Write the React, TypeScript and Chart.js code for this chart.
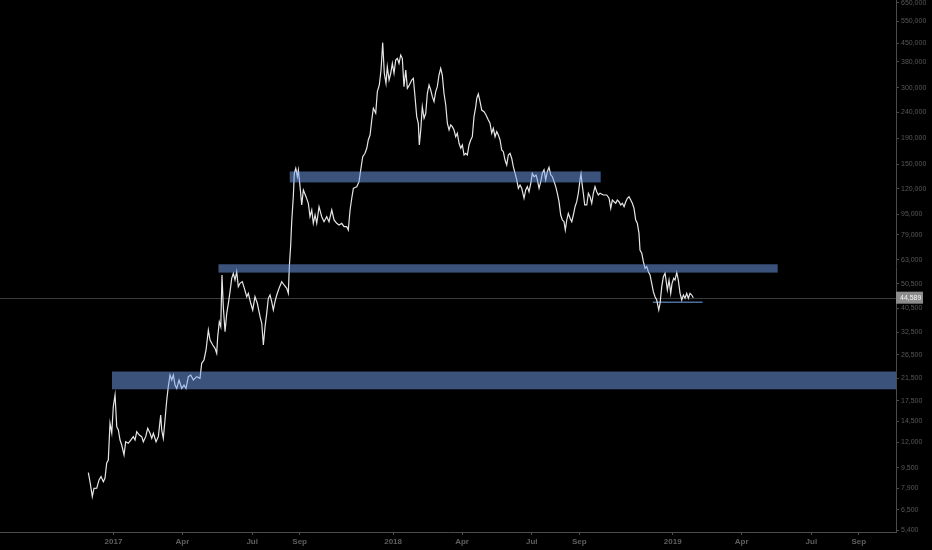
import React, { useEffect, useRef } from "react";
import { Chart, registerables } from "chart.js";

Chart.register(...registerables);

// days since 2017-01-01
const DAYS: number[] = [
  -32.9,-30.7,-27.7,-25.5,-21.9,-18.9,-16.3,-13.3,-11.1,-8.9,-6.8,-4.6,-2.3,-0.3,2.0,4.2,6.3,8.5,10.7,13.7,15.9,19.3,22.5,25.8,28.1,30.3,33.7,36.8,38.9,42.0,44.6,47.7,49.9,52.0,55.5,58.5,61.6,62.9,65.0,67.2,69.5,71.5,73.8,76.0,78.1,80.3,82.5,85.5,89.0,92.0,94.6,97.7,100.8,104.2,108.6,112.9,115.1,118.1,120.8,123.8,126.0,129.5,132.5,134.7,136.0,138.1,140.0,141.6,143.3,145.6,147.8,149.9,152.1,154.3,156.4,158.6,160.8,162.9,165.1,168.1,170.8,173.9,176.0,179.1,181.7,184.7,187.7,191.3,193.5,195.6,197.8,200.0,202.1,204.3,206.5,208.6,210.8,213.1,216.1,219.6,222.6,226.1,228.2,229.5,231.3,232.6,234.7,236.0,237.9,240.0,241.3,243.5,245.7,247.8,251.3,254.3,256.5,258.8,260.8,263.1,265.3,268.3,271.8,274.8,278.3,281.3,284.9,287.9,291.4,294.4,297.9,300.9,304.4,306.5,308.8,311.0,313.1,317.5,320.5,322.7,325.3,328.3,330.6,332.6,334.9,337.1,339.2,342.3,344.4,347.0,349.2,351.4,353.5,355.7,357.4,359.7,361.9,364.0,366.2,368.4,370.5,372.7,374.9,377.0,379.2,381.5,383.6,386.2,389.3,391.4,393.6,395.8,397.9,399.2,401.1,403.1,405.4,407.6,409.7,411.9,414.1,416.2,418.4,420.6,422.7,424.9,427.1,429.2,431.4,433.7,435.8,438.0,440.2,442.3,444.5,446.7,448.8,451.1,453.3,455.4,457.6,459.8,461.9,464.1,466.3,468.4,470.6,472.9,474.2,476.2,478.5,480.7,483.7,486.3,489.3,491.5,493.7,495.8,498.1,500.3,502.4,504.6,506.8,508.9,511.1,513.3,515.4,517.6,519.8,521.9,524.2,526.4,528.5,530.7,532.9,535.9,538.1,540.2,542.4,544.7,546.7,549.0,551.6,553.3,555.5,557.7,559.8,562.0,564.2,566.3,568.5,570.8,572.9,575.1,577.3,579.4,581.6,583.8,585.9,588.1,589.8,591.7,593.7,596.0,598.2,600.3,602.5,604.7,606.8,609.0,610.3,611.6,613.3,615.1,617.8,619.9,622.1,624.3,626.4,628.6,630.8,632.9,635.1,639.4,643.9,646.9,649.1,651.2,653.4,655.6,657.7,659.9,662.1,664.3,666.5,668.7,670.8,673.0,675.2,677.3,679.5,681.7,683.8,686.0,687.3,689.6,691.7,693.9,696.1,698.2,700.4,702.6,704.7,706.9,709.1,711.8,713.5,715.7,717.8,720.0,721.3,723.0,725.2,727.4,729.1,731.3,733.0,735.3,737.3,739.6,741.8,743.9,746.1,748.3,750.4,752.6,754.8,756.9
];

const PRICES: number[] = [
  9100,8380,7320,7890,7910,8520,8780,8380,8670,9930,10200,14250,13050,16560,18420,
  13820,13410,12240,11700,10690,12050,11880,12240,12620,12240,13200,12810,12620,12050,12620,
  13610,13010,12430,13010,12050,12620,15360,13410,12430,14680,17610,19870,22090,21110,22090,
  20170,19580,21110,19580,20170,19580,21760,22090,21110,21760,21440,
  24570,25320,27730,33250,30360,29010,28160,26910,31290,35840,34260,
  54790,41090,32740,38690,42380,47080,53170,55640,52360,56460,49260,50810,51560,
  48550,44990,46390,42380,39870,44990,42380,37520,35340,29010,34260,38690,
  44340,45690,43000,39870,43000,45690,48550,51560,50040,48550,46390,59090,71960,
  88920,111600,138000,144400,133800,142200,122200,103500,118600,111600,105100,93050,98880,87630,94490,
  87630,101900,93050,88920,93050,88920,98880,90300,87630,86290,87630,84960,84960,82460,98880,
  110000,120400,122200,127900,142200,160500,165500,173200,186700,195400,223900,249100,238000,289600,307700,
  352700,452000,342300,312600,363400,322000,342300,374700,342300,386100,392200,374700,404100,392200,
  303100,352700,298700,307700,322000,327100,276700,230800,217400,178500,204500,252700,227400,238000,
  285400,307700,294100,276700,264500,289600,303100,336900,358200,336900,285400,256700,217400,204500,
  214000,210700,204500,192400,198500,181300,173200,178500,162900,165500,162900,
  178500,186700,192400,230800,252700,272700,283600,
  264500,245100,241500,234400,223900,217400,198500,207700,192400,201400,195400,186700,
  170500,167900,155700,148800,162900,165500,158200,146500,138000,129900,120400,124100,120400,
  110000,118600,122200,116800,126000,138000,133800,135900,129900,120400,127900,138000,142200,
  129900,140000,145700,135900,133800,127900,122200,115100,106600,94490,90300,88920,
  82460,90300,95960,91700,88920,94490,101900,106600,115100,129900,
  137100,126000,115100,103500,103500,115100,111600,105100,115100,122200,116800,113300,115100,
  113300,113300,110000,100400,108300,106600,105100,108300,106600,103500,105100,101900,106600,110000,111600,108300,105100,100400,
  90300,87630,80030,68760,66730,61830,58230,59090,56460,54790,50810,47080,44990,43670,39870,42380,
  49270,53950,55640,52360,47820,52360,46400,50810,53170,52360,55950,52360,46400,43670,45690,44340,46400,44340,46400,45690,44589
];

const X_TICK_DAYS = [0, 90, 181, 243, 365, 455, 546, 608, 730, 820, 911, 973];
const X_TICK_LABELS = ["2017", "Apr", "Jul", "Sep", "2018", "Apr", "Jul", "Sep", "2019", "Apr", "Jul", "Sep"];

const Y_TICKS = [5400, 6500, 7900, 9500, 12000, 14500, 17500, 21500, 26500, 32500, 40500, 50500, 63000, 79000, 95000, 120000, 150000, 190000, 240000, 300000, 380000, 450000, 550000, 650000];

// horizontal zones
const ZONE_START = [230, -2, 137];
const ZONE_END = [636, 1021.5, 867];
const ZONE_LOW = [127000, 19400, 56000];
const ZONE_HIGH = [140300, 22800, 60400];

const SUPPORT_DAYS = [704, 769];
const SUPPORT_PRICE = 42760;

const LAST_PRICE = 44589;

const X_MIN = -148.2;
const X_MAX = 1021.5;
const Y_MIN = 5309;
const Y_MAX = 665900;

const fmt = (v: number) => v.toLocaleString("en-US");

export default function App() {
  const ref = useRef<HTMLCanvasElement | null>(null);

  useEffect(() => {
    document.body.style.background = "#000";
    const canvas = ref.current;
    if (!canvas) return;

    const linePoints = DAYS.slice(0, Math.min(DAYS.length, PRICES.length)).map((d, i) => ({ x: d, y: PRICES[i] }));
    const supportPoints = SUPPORT_DAYS.map((d) => ({ x: d, y: SUPPORT_PRICE }));

    const overlay = {
      id: "overlay",
      beforeDatasetsDraw(chart: any) {
        const { ctx, chartArea, scales } = chart;
        const y = Math.round(scales.y.getPixelForValue(LAST_PRICE)) + 0.5;
        ctx.save();
        ctx.strokeStyle = "#3a3a3a";
        ctx.lineWidth = 1;
        ctx.beginPath();
        ctx.moveTo(chartArea.left, y);
        ctx.lineTo(chartArea.right, y);
        ctx.stroke();
        ctx.restore();
      },
      afterDatasetsDraw(chart: any) {
        const { ctx, chartArea, scales } = chart;
        ctx.save();
        ctx.beginPath();
        ctx.rect(chartArea.left, chartArea.top, chartArea.right - chartArea.left, chartArea.bottom - chartArea.top);
        ctx.clip();
        ctx.fillStyle = "rgba(118,165,245,0.5)";
        for (let i = 0; i < ZONE_START.length; i++) {
          const x0 = scales.x.getPixelForValue(ZONE_START[i]);
          const x1 = scales.x.getPixelForValue(ZONE_END[i]);
          const y0 = scales.y.getPixelForValue(ZONE_HIGH[i]);
          const y1 = scales.y.getPixelForValue(ZONE_LOW[i]);
          ctx.fillRect(x0, y0, x1 - x0, y1 - y0);
        }
        ctx.restore();
      },
      afterDraw(chart: any) {
        const { ctx, chartArea, scales } = chart;
        const y = scales.y.getPixelForValue(LAST_PRICE);
        const x = chartArea.right;
        ctx.save();
        ctx.fillStyle = "#8c8c8c";
        ctx.fillRect(x, y - 6, 27, 12);
        ctx.fillStyle = "#f2f2f2";
        ctx.font = "7px 'Liberation Sans', Arial, sans-serif";
        ctx.textBaseline = "middle";
        ctx.textAlign = "left";
        ctx.fillText(fmt(LAST_PRICE), x + 4, y + 0.5);
        ctx.restore();
      },
    };

    const chart = new Chart(canvas, {
      type: "line",
      data: {
        datasets: [
          {
            data: linePoints,
            borderColor: "#e6e6e6",
            borderWidth: 1.2,
            pointRadius: 0,
            tension: 0,
            fill: false,
          },
          {
            data: supportPoints,
            borderColor: "#4f6e9e",
            borderWidth: 1.5,
            pointRadius: 0,
            fill: false,
          },
        ],
      },
      options: {
        animation: false,
        responsive: false,
        maintainAspectRatio: false,
        parsing: false,
        layout: { padding: 0 },
        plugins: { legend: { display: false }, tooltip: { enabled: false } },
        scales: {
          x: {
            type: "linear",
            min: X_MIN,
            max: X_MAX,
            afterBuildTicks: (s: any) => {
              s.ticks = X_TICK_DAYS.map((v) => ({ value: v }));
            },
            afterFit: (s: any) => {
              s.height = 18;
              s.paddingLeft = 0;
              s.paddingRight = 0;
            },
            grid: { drawOnChartArea: false, drawTicks: true, tickLength: 3, color: "#4a4a4a" },
            border: { display: true, color: "#4a4a4a" },
            ticks: {
              autoSkip: false,
              maxRotation: 0,
              padding: 2,
              color: "#5f5f5f",
              font: { family: "'Liberation Sans', Arial, sans-serif", size: 8, weight: "bold" },
              callback: (v: any) => {
                const i = X_TICK_DAYS.indexOf(Number(v));
                return i >= 0 ? X_TICK_LABELS[i] : "";
              },
            },
          },
          y: {
            type: "logarithmic",
            position: "right",
            min: Y_MIN,
            max: Y_MAX,
            afterBuildTicks: (s: any) => {
              s.ticks = Y_TICKS.map((v) => ({ value: v }));
            },
            afterFit: (s: any) => {
              s.width = 36;
              s.paddingTop = 0;
              s.paddingBottom = 0;
            },
            grid: { drawOnChartArea: false, drawTicks: true, tickLength: 3, color: "#4a4a4a" },
            border: { display: true, color: "#4a4a4a" },
            ticks: {
              autoSkip: false,
              padding: 2,
              color: "#585858",
              font: { family: "'Liberation Sans', Arial, sans-serif", size: 7 },
              callback: (v: any) => fmt(Number(v)),
            },
          },
        },
      } as any,
      plugins: [overlay],
    });

    return () => chart.destroy();
  }, []);

  return (
    <div style={{ position: "fixed", left: 0, top: 0, width: 932, height: 550, background: "#000" }}>
      <canvas ref={ref} width={932} height={550} style={{ display: "block", width: 932, height: 550 }} />
    </div>
  );
}
